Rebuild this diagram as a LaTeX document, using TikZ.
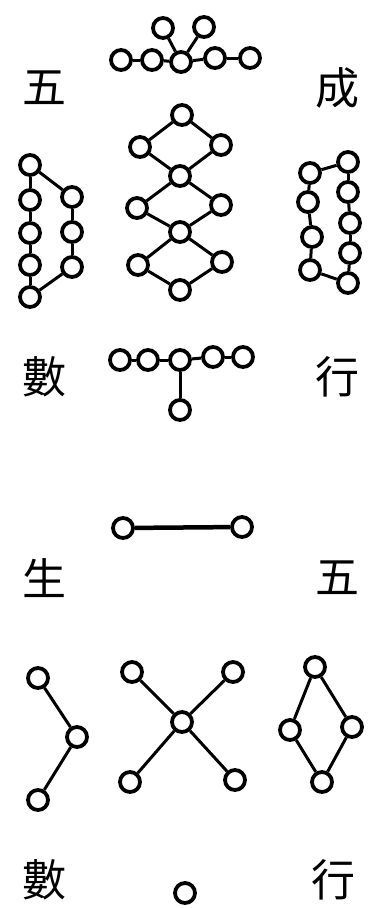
\documentclass[tikz,border=0pt]{standalone}
\usepackage{fontspec}
\newfontfamily\cjk{Noto Sans CJK TC}
\usetikzlibrary{positioning}

\begin{document}
\begin{tikzpicture}[x=1pt,y=-1pt,
    dot/.style={circle,draw,line width=3.8pt,minimum size=20pt,inner sep=0pt},
    hanzi/.style={font=\cjk\fontsize{44}{44}\selectfont},
    every path/.style={line width=3pt}]
    \useasboundingbox (0,0) rectangle (389,908);

    % side characters
    \node[hanzi] (wu1) at (45,88) {五};
    \node[hanzi] (cheng) at (337,88) {成};
    \node[hanzi] (shu1) at (45,377) {數};
    \node[hanzi] (xing1) at (337,377) {行};
    \node[hanzi] (sheng) at (45,578) {生};
    \node[hanzi] (wu2) at (337,578) {五};
    \node[hanzi] (shu2) at (45,880) {數};
    \node[hanzi] (xing2) at (333,880) {行};

    \begin{scope}
        \node[dot] (a1) at (163,28) {};
        \node[dot] (a2) at (204,27) {};
        \node[dot] (b1) at (121,60) {};
        \node[dot] (b2) at (152,60) {};
        \node[dot] (b3) at (181,62) {};
        \node[dot] (b4) at (215,58) {};
        \node[dot] (b5) at (250,58) {};

        \draw (b1)--(b2);
        \draw (b2)--(b3);
        \draw (b3)--(b4);
        \draw (b4)--(b5);
        \draw (a1)--(b3);
        \draw (a2)--(b3);
    \end{scope}

    \begin{scope}
        \node[dot] (c1) at (182,115) {};
        \node[dot] (c2) at (140,147) {};
        \node[dot] (c3) at (221,145) {};
        \node[dot] (c4) at (180,176) {};
        \node[dot] (c5) at (137,208) {};
        \node[dot] (c6) at (221,205) {};
        \node[dot] (c7) at (180,232) {};
        \node[dot] (c8) at (138,265) {};
        \node[dot] (c9) at (222,262) {};
        \node[dot] (c10) at (180,290) {};

        \draw (c1)--(c2);
        \draw (c1)--(c3);
        \draw (c2)--(c4);
        \draw (c3)--(c4);
        \draw (c4)--(c5);
        \draw (c4)--(c6);
        \draw (c5)--(c7);
        \draw (c6)--(c7);
        \draw (c7)--(c8);
        \draw (c7)--(c9);
        \draw (c8)--(c10);
        \draw (c9)--(c10);
    \end{scope}

    \begin{scope}
        \node[dot] (l1) at (30,165) {};
        \node[dot] (l2) at (30,200) {};
        \node[dot] (l3) at (30,233) {};
        \node[dot] (l4) at (30,265) {};
        \node[dot] (l5) at (30,297) {};
        \node[dot] (r1) at (72,197) {};
        \node[dot] (r2) at (72,232) {};
        \node[dot] (r3) at (72,267) {};

        \draw (l1)--(l2);
        \draw (l2)--(l3);
        \draw (l3)--(l4);
        \draw (l4)--(l5);
        \draw (l1)--(r1);
        \draw (r1)--(r2);
        \draw (r2)--(r3);
        \draw (r3)--(l5);
    \end{scope}

    \begin{scope}
        \node[dot] (p1) at (310,173) {};
        \node[dot] (p2) at (308,202) {};
        \node[dot] (p3) at (312,237) {};
        \node[dot] (p4) at (310,270) {};
        \node[dot] (q1) at (348,162) {};
        \node[dot] (q2) at (348,192) {};
        \node[dot] (q3) at (350,223) {};
        \node[dot] (q4) at (350,253) {};
        \node[dot] (q5) at (348,283) {};

        \draw (p1)--(q1);
        \draw (p1)--(p2);
        \draw (p2)--(p3);
        \draw (p3)--(p4);
        \draw (q1)--(q2);
        \draw (q2)--(q3);
        \draw (q3)--(q4);
        \draw (q4)--(q5);
        \draw (p4)--(q5);
    \end{scope}

    \begin{scope}
        \node[dot] (s1) at (120,360) {};
        \node[dot] (s2) at (148,360) {};
        \node[dot] (s3) at (180,360) {};
        \node[dot] (s4) at (213,357) {};
        \node[dot] (s5) at (243,357) {};
        \node[dot] (s6) at (180,410) {};

        \draw (s1)--(s2);
        \draw (s2)--(s3);
        \draw (s3)--(s4);
        \draw (s4)--(s5);
        \draw (s3)--(s6);
    \end{scope}

    \node[dot] (m1) at (123,528) {};
    \node[dot] (m2) at (242,527) {};
    \draw[line width=4.5pt] (m1)--(m2);

    \begin{scope}
        \node[dot] (u1) at (38,678) {};
        \node[dot] (u2) at (77,737) {};
        \node[dot] (u3) at (38,800) {};

        \draw (u1)--(u2);
        \draw (u2)--(u3);

        \node[dot] (x1) at (132,672) {};
        \node[dot] (x2) at (233,672) {};
        \node[dot] (x0) at (182,722) {};
        \node[dot] (x3) at (130,782) {};
        \node[dot] (x4) at (235,780) {};

        \draw (x1)--(x0);
        \draw (x2)--(x0);
        \draw (x3)--(x0);
        \draw (x4)--(x0);

        \node[dot] (d1) at (315,667) {};
        \node[dot] (d2) at (290,730) {};
        \node[dot] (d3) at (352,727) {};
        \node[dot] (d4) at (322,782) {};

        \draw (d1)--(d2);
        \draw (d1)--(d3);
        \draw (d2)--(d4);
        \draw (d3)--(d4);
    \end{scope}

    \node[dot] (o) at (185,893) {};
\end{tikzpicture}
\end{document}
